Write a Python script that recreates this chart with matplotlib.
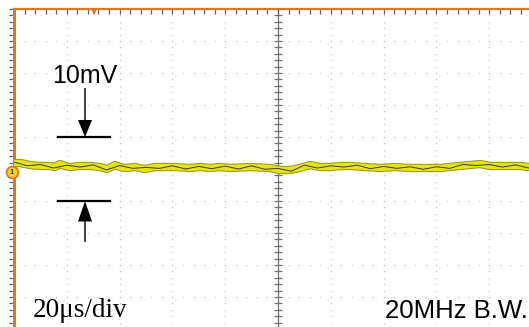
import matplotlib.pyplot as plt
import matplotlib.patheffects as pe
import numpy as np

# trace: time (us) and voltage (mV)
t_us = [0, 2.3, 4.2, 6.1, 9.8, 13.6, 15.5, 17.4, 19.3, 21.2, 25.0, 28.8, 32.6,
        35.2, 38.3, 40.2, 42.0, 45.8, 49.6, 53.4, 57.2, 61.0, 66.7, 70.5, 74.2,
        78.0, 81.8, 89.4, 97.0, 100.8, 104.5, 108.3, 112.1, 115.9, 119.7, 123.5,
        127.3, 133.0, 138.6, 144.3, 150.0, 153.8, 161.4, 168.9, 176.5, 180.3,
        184.1, 191.7, 195.1, 200.0]
v_mv = [0.94, 0.94, 0.78, 0.62, 0.47, 0.47, 0.31, 0.78, 0.47, 0.31, 0.47, 0.47, 0.31,
        0.0, 0.62, 0.31, 0.16, 0.31, 0.0, 0.31, 0.31, 0.31, 0.16, 0.31, 0.16,
        0.31, 0.16, 0.31, 0.16, -0.16, -0.16, 0.16, 0.62, 0.31, 0.31, 0.47,
        0.47, 0.31, 0.16, 0.31, 0.16, 0.16, 0.16, 0.47, 0.78, 0.47,
        0.47, 0.47, 0.31, 0.31]

# dark noise line inside the trace, sampled every 5 us
t_noise = list(range(0, 201, 5))
v_noise = [1.1, 0.5, 0.7, 0.15, 0.6, 0.3, 0.65, -0.15, 0.55, 0.1, 0.25, 0.1, 0.5,
           0.0, 0.4, 0.05, 0.45, 0.0, 0.5, -0.05, 0.1, -0.35, 0.6, 0.15, 0.5, 0.3,
           0.6, 0.05, 0.4, 0.1, 0.35, -0.05, 0.35, 0.1, 0.7, 0.55, 0.7, 0.3, 0.65,
           0.15, 0.45]

time_div = 20    # us/div
volt_div = 5     # mV/div
label_amp = "10mV"
label_time = "20\u03bcs/div"
label_bw = "20MHz B.W."

orange = '#d9772b'
yellow = '#e4e418'
grid_c = '#c8c8c8'

fig = plt.figure(figsize=(5.29, 3.27), dpi=100)
ax = fig.add_axes([14/529, -2/327, 528/529, 320/327])
ax.set_xlim(0, 10*time_div)
ax.set_ylim(-5*volt_div, 5*volt_div)
ax.axis('off')

# dotted graticule
minor_x = np.arange(0, 10*time_div + 0.01, time_div/5)
minor_y = np.arange(-5*volt_div, 5*volt_div + 0.01, volt_div/5)
for gx in np.arange(time_div, 10*time_div, time_div):
    if gx == 5*time_div:
        continue
    ax.scatter(np.full_like(minor_y, gx), minor_y, s=1.2, color=grid_c, lw=0)
for gy in np.arange(-4*volt_div, 5*volt_div, volt_div):
    if gy == 0:
        continue
    ax.scatter(minor_x, np.full_like(minor_x, gy), s=1.2, color=grid_c, lw=0)

# centre axis with ticks
ax.axvline(5*time_div, color='#707070', lw=0.9)
ax.plot(np.full_like(minor_y, 5*time_div), minor_y, ls='none', marker='_',
        ms=6, mew=0.9, color='#707070')

# edge ticks
ax.plot(minor_x, np.full_like(minor_x, 5*volt_div), ls='none', marker=3,
        ms=3.5, mew=0.9, color='#606060', clip_on=False)
ax.plot(np.zeros_like(minor_y), minor_y, ls='none', marker=0,
        ms=3.5, mew=0.9, color='#606060', clip_on=False)

# orange borders
ax.plot([0, 10*time_div], [5*volt_div]*2, color=orange, lw=1.6, clip_on=False)
ax.plot([0, 0], [-5*volt_div, 5*volt_div], color=orange, lw=2.2, clip_on=False)

# trigger marker
ax.plot([30.3], [5*volt_div - 0.4], marker='v', ms=5, color=orange, mew=0,
        clip_on=False)

# trace
ax.plot(t_us, v_mv, color=yellow, lw=4.5, solid_capstyle='butt',
        path_effects=[pe.Stroke(linewidth=6, foreground='#9a9a18'), pe.Normal()])
ax.plot(t_noise, v_noise, color='#3c3c10', lw=0.7)

# channel marker
ax.plot([-0.8], [-0.47], marker='o', ms=8.5, mfc='#f2d030', mec=orange,
        mew=1.3, clip_on=False, zorder=5)
ax.text(-0.8, -0.47, '1', fontsize=5.5, ha='center', va='center',
        color='black', clip_on=False, zorder=6, family='Liberation Sans')

# amplitude markers
for y in (volt_div, -volt_div):
    ax.plot([16.7, 36.4], [y, y], color='black', lw=1.6)
ax.arrow(26.9, 12.66, 0, volt_div - 12.66, width=0.55,
         head_width=5.3, head_length=2.66, length_includes_head=True,
         color='black', lw=0)
ax.arrow(26.9, -11.4, 0, -volt_div + 11.4, width=0.55,
         head_width=5.3, head_length=3.2, length_includes_head=True,
         color='black', lw=0)

ax.text(14.4, 13.4, label_amp, fontsize=18, family='Liberation Sans',
        va='baseline', ha='left')
ax.text(7.2, -23.1, label_time, fontsize=19.5, family='Liberation Serif',
        va='baseline', ha='left')
ax.text(140.5, -23.3, label_bw, fontsize=18.5, family='Liberation Sans',
        va='baseline', ha='left')

fig.savefig('out.png', dpi=100)
